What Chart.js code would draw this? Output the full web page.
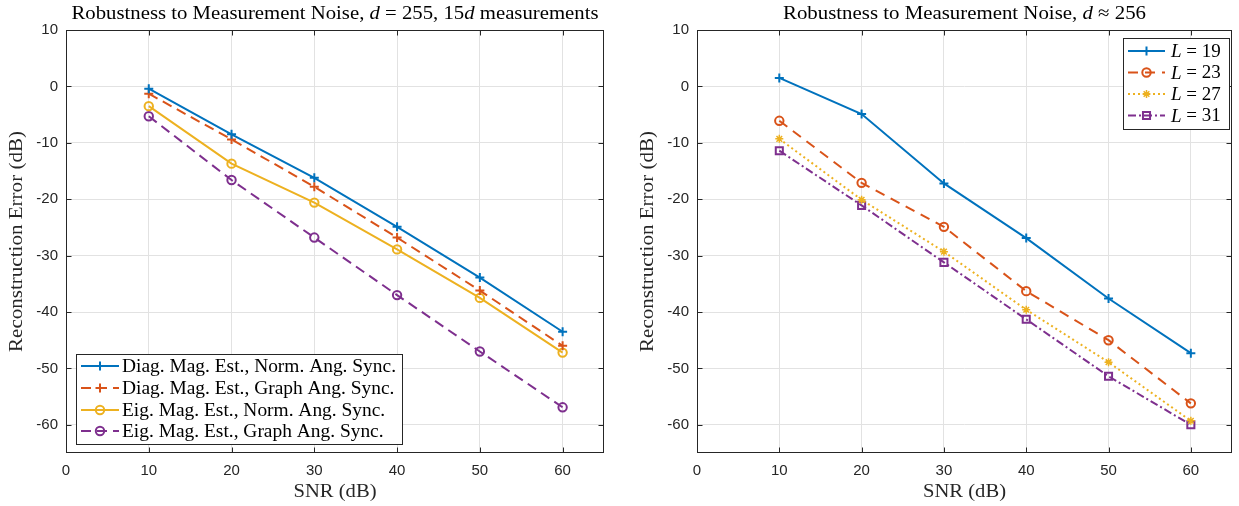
<!DOCTYPE html>
<html><head><meta charset="utf-8">
<script src="https://cdn.jsdelivr.net/npm/chart.js"></script>
<style>
html,body{margin:0;padding:0;background:#fff;}
#wrap{position:relative;width:1239px;height:506px;overflow:hidden;}
.c{position:absolute;top:0;height:506px;}
canvas{display:block;}
</style></head><body>
<div id="wrap">
<div class="c" style="left:0;width:620px"><canvas id="left" width="620" height="506"></canvas></div>
<div class="c" style="left:620px;width:619px"><canvas id="right" width="619" height="506"></canvas></div>
</div>
<script>
// ---- data ----
const snr = [10, 20, 30, 40, 50, 60];
const xTicks = [0, 10, 20, 30, 40, 50, 60];
const yTicks = [-60, -50, -40, -30, -20, -10, 0, 10];

const leftLabels = [
  'Diag. Mag. Est., Norm. Ang. Sync.',
  'Diag. Mag. Est., Graph Ang. Sync.',
  'Eig. Mag. Est., Norm. Ang. Sync.',
  'Eig. Mag. Est., Graph Ang. Sync.'
];
const diagNorm  = [-0.4, -8.5, -16.2, -24.9, -33.9, -43.5];
const diagGraph = [-1.3, -9.4, -17.8, -26.8, -36.2, -46.0];
const eigNorm   = [-3.5, -13.7, -20.6, -28.9, -37.5, -47.2];
const eigGraph  = [-5.3, -16.6, -26.8, -37.0, -47.0, -56.9];

const rightLabels = ['19', '23', '27', '31'];
const L19 = [1.5, -4.9, -17.2, -26.9, -37.6, -47.3];
const L23 = [-6.1, -17.1, -24.9, -36.3, -45.0, -56.2];
const L27 = [-9.3, -20.1, -29.3, -39.6, -48.9, -59.3];
const L31 = [-11.4, -21.1, -31.2, -41.3, -51.4, -60.0];

const xTitle = 'SNR (dB)';
const yTitle = 'Reconstruction Error (dB)';

// ---- styles ----
const BLUE = '#0072BD', ORANGE = '#D95319', YELLOW = '#EDB120', PURPLE = '#7E2F8E';
const AX = '#262626';
const GRID = '#e2e2e2';
const SERIF = '"Liberation Serif", "Times New Roman", serif';
const SANS = '"Liberation Sans", Arial, sans-serif';

function pts(arr){ return snr.map((x,i)=>({x:x, y:arr[i]})); }

function ds(label, data, color, dash, style, r, pbw){
  return {
    label, data: pts(data), borderColor: color, backgroundColor: color,
    borderWidth: 2, borderDash: dash, pointStyle: style,
    pointRadius: r,
    pointBorderWidth: pbw || 2, pointBackgroundColor: 'rgba(0,0,0,0)',
    pointBorderColor: color, tension: 0, fill: false
  };
}

function drawMarker(ctx, style, x, y, r, color, lw){
  ctx.save();
  ctx.strokeStyle = color; ctx.lineWidth = lw || 2; ctx.setLineDash([]);
  ctx.beginPath();
  if (style === 'cross'){
    ctx.moveTo(x-r,y); ctx.lineTo(x+r,y); ctx.moveTo(x,y-r); ctx.lineTo(x,y+r);
  } else if (style === 'circle'){
    ctx.arc(x,y,r,0,Math.PI*2);
  } else if (style === 'star'){
    ctx.moveTo(x-r,y); ctx.lineTo(x+r,y); ctx.moveTo(x,y-r); ctx.lineTo(x,y+r);
    const d = r*Math.SQRT1_2;
    ctx.moveTo(x-d,y-d); ctx.lineTo(x+d,y+d); ctx.moveTo(x-d,y+d); ctx.lineTo(x+d,y-d);
  } else if (style === 'rect'){
    const s = r*Math.SQRT1_2;
    ctx.rect(x-s,y-s,2*s,2*s);
  }
  ctx.stroke();
  ctx.restore();
}

function segWidth(ctx, segs, size){
  let w = 0;
  segs.forEach(s=>{ ctx.font = (s.i?'italic ':'') + size + 'px ' + SERIF; w += ctx.measureText(s.t).width; });
  return w;
}

// draws text segments at (x,y) with horizontal stretch sx; align left/center
function drawSegments(ctx, segs, x, y, size, align, sx, color){
  ctx.save();
  ctx.textBaseline = 'middle';
  ctx.textAlign = 'left';
  ctx.fillStyle = color || '#000';
  const w = segWidth(ctx, segs, size) * sx;
  const x0 = align === 'left' ? x : x - w/2;
  ctx.translate(x0, y);
  ctx.scale(sx, 1);
  let cx = 0;
  segs.forEach(s=>{ ctx.font = (s.i?'italic ':'') + size + 'px ' + SERIF; ctx.fillText(s.t, cx, 0); cx += ctx.measureText(s.t).width; });
  ctx.restore();
}

function fitScale(ctx, segs, size, target){ return target / segWidth(ctx, segs, size); }

const matlabPlugin = {
  id: 'matlab',
  afterDraw(chart, args, o){
    const ctx = chart.ctx, a = chart.chartArea;
    const xs = chart.scales.x, ys = chart.scales.y;
    const L = Math.round(a.left)+0.5, R = Math.round(a.right)-0.5, T = Math.round(a.top)+0.5, B = Math.round(a.bottom)-0.5;
    ctx.save();
    ctx.strokeStyle = AX; ctx.lineWidth = 1; ctx.setLineDash([]);
    ctx.beginPath();
    const tl = 5;
    xTicks.forEach(v=>{
      const p = Math.round(xs.getPixelForValue(v))+0.5;
      ctx.moveTo(p,B); ctx.lineTo(p,B-tl);
      ctx.moveTo(p,T); ctx.lineTo(p,T+tl);
    });
    yTicks.forEach(v=>{
      const p = Math.round(ys.getPixelForValue(v))+0.5;
      ctx.moveTo(L,p); ctx.lineTo(L+tl,p);
      ctx.moveTo(R,p); ctx.lineTo(R-tl,p);
    });
    ctx.stroke();
    ctx.strokeRect(L, T, R-L, B-T);
    ctx.restore();

    // title
    const tsx = fitScale(ctx, o.title, o.titleSize, o.titleW);
    drawSegments(ctx, o.title, (a.left+a.right)/2, o.titleY, o.titleSize, 'center', tsx);

    // axis titles
    const xt = [{t: xTitle}];
    drawSegments(ctx, xt, (a.left+a.right)/2, o.xTitleY, o.axisSize, 'center', fitScale(ctx, xt, o.axisSize, o.xTitleW), AX);
    const yt = [{t: yTitle}];
    ctx.save();
    ctx.translate(o.yTitleX, (a.top+a.bottom)/2);
    ctx.rotate(-Math.PI/2);
    drawSegments(ctx, yt, 0, 0, o.axisSize, 'center', fitScale(ctx, yt, o.axisSize, o.yTitleW), AX);
    ctx.restore();

    // legend
    const lg = o.legend;
    ctx.save();
    ctx.fillStyle = '#fff';
    ctx.fillRect(lg.x, lg.y, lg.w, lg.h);
    ctx.strokeStyle = AX; ctx.lineWidth = 1;
    ctx.strokeRect(lg.x+0.5, lg.y+0.5, lg.w, lg.h);
    ctx.restore();
    const lsx = lg.firstW ? fitScale(ctx, lg.texts[0], lg.size, lg.firstW) : 1;
    chart.data.datasets.forEach((d,i)=>{
      const yy = lg.rows[i];
      ctx.save();
      ctx.strokeStyle = d.borderColor; ctx.lineWidth = 2;
      ctx.setLineDash(d.borderDash || []);
      ctx.beginPath(); ctx.moveTo(lg.x0, yy); ctx.lineTo(lg.x1, yy); ctx.stroke();
      ctx.restore();
      drawMarker(ctx, d.pointStyle, (lg.x0+lg.x1)/2, yy, d.pointRadius, d.borderColor, d.pointBorderWidth);
      drawSegments(ctx, lg.texts[i], lg.tx, yy+1, lg.size, 'left', lsx);
    });
  }
};

function makeChart(id, datasets, opt){
  return new Chart(document.getElementById(id), {
    type: 'line',
    data: { datasets },
    options: {
      responsive: false, animation: false, devicePixelRatio: 1,
      layout: { padding: { top: 30, right: opt.padRight, bottom: 0, left: 0 } },
      plugins: {
        legend: { display: false }, tooltip: { enabled: false }, title: { display: false },
        matlab: opt.matlab
      },
      scales: {
        x: {
          type: 'linear', min: 0, max: 65,
          afterBuildTicks: s => { s.ticks = xTicks.map(v=>({value:v})); },
          afterFit: s => { s.height = 53; },
          grid: { color: GRID, lineWidth: 1, drawTicks: false },
          border: { display: false },
          ticks: { color: AX, font: { family: SANS, size: 15 }, padding: 9, maxRotation: 0 },
          title: { display: false }
        },
        y: {
          type: 'linear', min: -65, max: 10,
          afterBuildTicks: s => { s.ticks = yTicks.map(v=>({value:v})); },
          afterFit: s => { s.width = opt.yWidth; },
          grid: { color: GRID, lineWidth: 1, drawTicks: false },
          border: { display: false },
          ticks: { color: AX, font: { family: SANS, size: 15 }, padding: 8 },
          title: { display: false }
        }
      }
    },
    plugins: [matlabPlugin]
  });
}

makeChart('left', [
  ds(leftLabels[0], diagNorm, BLUE, [], 'cross', 4.5),
  ds(leftLabels[1], diagGraph, ORANGE, [10,6], 'cross', 4.5),
  ds(leftLabels[2], eigNorm, YELLOW, [], 'circle', 4.2),
  ds(leftLabels[3], eigGraph, PURPLE, [10,6], 'circle', 4.2)
], {
  padRight: 16, yWidth: 66,
  matlab: {
    title: [{t:'Robustness to Measurement Noise, '},{t:'d',i:true},{t:' = 255, 15'},{t:'d',i:true},{t:' measurements'}],
    titleY: 14, titleSize: 19, titleW: 527,
    axisSize: 19, xTitleY: 492, xTitleW: 83, yTitleX: 17, yTitleW: 221,
    legend: {
      x: 76, y: 354, w: 326, h: 90, x0: 81, x1: 119, tx: 122, size: 19, firstW: 274,
      rows: [366, 388, 410, 431],
      texts: leftLabels.map(t=>[{t}])
    }
  }
});

makeChart('right', [
  ds('L = 19', L19, BLUE, [], 'cross', 4.5),
  ds('L = 23', L23, ORANGE, [10,7], 'circle', 4.2),
  ds('L = 27', L27, YELLOW, [2,3], 'star', 4, 1.5),
  ds('L = 31', L31, PURPLE, [8,3,2,3], 'rect', 5)
], {
  padRight: 3, yWidth: 77,
  matlab: {
    title: [{t:'Robustness to Measurement Noise, '},{t:'d',i:true},{t:' ≈ 256'}],
    titleY: 14, titleSize: 19, titleW: 363,
    axisSize: 19, xTitleY: 492, xTitleW: 83, yTitleX: 28, yTitleW: 221,
    legend: {
      x: 503, y: 38, w: 106, h: 91, x0: 508, x1: 545, tx: 551, size: 19, firstW: 0,
      rows: [51, 72.5, 94, 115.5],
      texts: rightLabels.map(n=>[{t:'L',i:true},{t:' = ' + n}])
    }
  }
});
</script>
</body></html>
